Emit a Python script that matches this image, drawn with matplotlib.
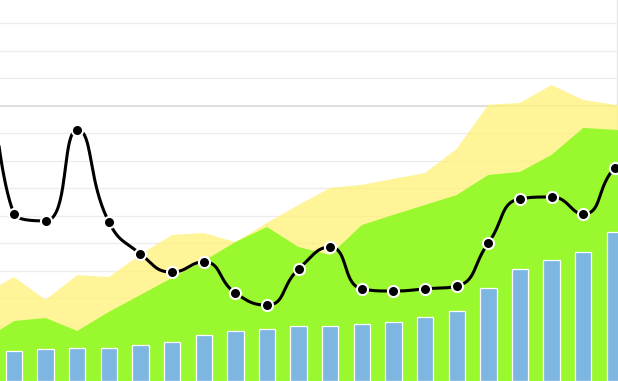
import matplotlib
matplotlib.use("Agg")
import matplotlib.pyplot as plt
import numpy as np

# category positions (index -1 and 20 sit just outside the visible window)
idx = list(range(-1, 21))

bars = [10.0, 10.9, 11.6, 12.0, 12.0, 13.1, 14.2, 16.7, 18.2, 18.9, 20.0,
        20.0, 20.7, 21.5, 23.3, 25.5, 33.8, 40.7, 44.0, 46.9, 54.2, 56.0]
yellow = [31.3, 37.8, 29.5, 38.5, 37.8, 46.0, 53.1, 53.8, 50.5, 57.5, 64.0,
          70.2, 71.3, 73.5, 75.6, 84.4, 100.4, 101.1, 107.6, 102.2, 100.4, 99.0]
green = [14.5, 21.8, 22.9, 18.2, 25.1, 31.3, 37.5, 43.6, 50.5, 56.0, 48.7,
         45.8, 56.7, 60.4, 64.0, 67.6, 74.9, 76.0, 82.2, 92.0, 91.3, 90.0]
line = [185.0, 60.7, 58.2, 91.3, 57.8, 46.2, 39.6, 43.3, 32.0, 27.6, 40.7,
        48.7, 33.5, 32.7, 33.5, 34.5, 50.2, 66.2, 66.9, 60.7, 77.5, 85.0]


def bezier(p0, c0, c1, p1, n=40):
    t = np.linspace(0, 1, n)[:, None]
    return ((1 - t) ** 3 * p0 + 3 * (1 - t) ** 2 * t * c0
            + 3 * (1 - t) * t ** 2 * c1 + t ** 3 * p1)


def smooth_path(pts, smooth=0.5):
    """Smoothed polyline in screen space, control points kept inside
    the box of neighbouring points so the curve does not overshoot."""
    n = len(pts)
    out = [pts[:1]]
    cp0 = pts[0].copy()
    for k in range(1, n):
        x, y = pts[k]
        px, py = pts[k - 1]
        if k == n - 1:
            cp1 = pts[k].copy()
            nxt_cp0 = pts[k].copy()
        else:
            nx, ny = pts[k + 1]
            vx, vy = nx - px, ny - py
            len_prev = np.hypot(x - px, y - py)
            len_next = np.hypot(nx - x, ny - y)
            ratio = len_next / (len_next + len_prev)
            ncx = x + vx * smooth * ratio
            ncy = y + vy * smooth * ratio
            ncx = max(min(ncx, max(nx, x)), min(nx, x))
            ncy = max(min(ncy, max(ny, y)), min(ny, y))
            vx, vy = ncx - x, ncy - y
            c1x = x - vx * len_prev / len_next
            c1y = y - vy * len_prev / len_next
            c1x = max(min(c1x, max(px, x)), min(px, x))
            c1y = max(min(c1y, max(py, y)), min(py, y))
            vx, vy = x - c1x, y - c1y
            ncx = x + vx * len_next / len_prev
            ncy = y + vy * len_next / len_prev
            cp1 = np.array([c1x, c1y])
            nxt_cp0 = np.array([ncx, ncy])
        out.append(bezier(pts[k - 1], cp0, cp1, pts[k])[1:])
        cp0 = nxt_cp0
    return np.vstack(out)


fig = plt.figure(figsize=(6.18, 3.81), dpi=100)
ax = fig.add_axes([0, 0, 1, 1])
ax.set_xlim(-0.443, 19.1)
ax.set_ylim(0, 138.5)
ax.axis("off")

for v in range(10, 140, 10):
    if v == 100:
        ax.axhline(v, color="#dcdcdc", lw=1.3, zorder=0)
    else:
        ax.axhline(v, color="#ececec", lw=0.9, zorder=0)
ax.axvline(19.06, color="#e6e6e6", lw=0.9, zorder=0)

ax.fill_between(idx, 0, yellow, color="#fff176", alpha=0.75, lw=0, zorder=1)
ax.fill_between(idx, 0, green, color="#99f82e", lw=0, zorder=2)
ax.bar(idx, bars, width=0.52, color="#7db6e1", edgecolor="white",
       linewidth=0.9, zorder=3)

# smooth the line in pixel space, then map back to data
screen = ax.transData.transform(np.column_stack([idx, line]))
curve = ax.transData.inverted().transform(smooth_path(screen, 0.5))
ax.plot(curve[:, 0], curve[:, 1], color="black", lw=2.2, zorder=4,
        solid_capstyle="round")
ax.plot(idx, line, "o", color="black", markersize=8, markeredgecolor="white",
        markeredgewidth=1.5, zorder=5)

fig.savefig("out.png", dpi=100)
